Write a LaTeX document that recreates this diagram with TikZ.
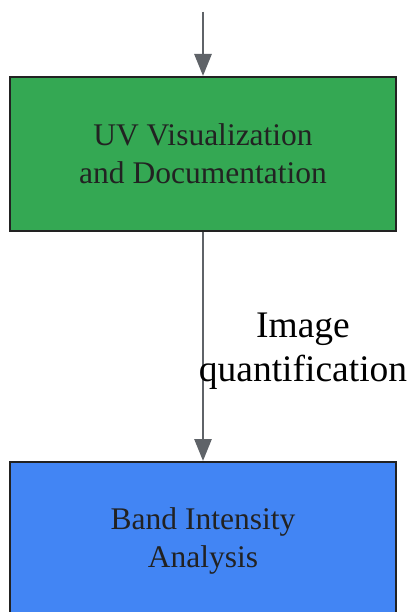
\documentclass[tikz,border=0pt]{standalone}
\usepackage{fontspec}
\setmainfont{Liberation Serif}
\usetikzlibrary{arrows.meta}
\definecolor{stepgreen}{HTML}{34A853}
\definecolor{stepblue}{HTML}{4285F4}
\definecolor{linkgray}{HTML}{5F6368}
\definecolor{inkdark}{HTML}{222222}

\begin{document}
\begin{tikzpicture}[x=1pt,y=-1pt,
    stepbox/.style={rectangle,draw=inkdark,line width=2pt,minimum width=386pt,minimum height=154pt,
      align=center,text=inkdark,font=\fontsize{31.5}{38}\selectfont},
    flow/.style={-{Triangle[length=22pt,width=17pt]},draw=linkgray,fill=linkgray,line width=2.8pt},
    lbl/.style={align=center,text=black,font=\fontsize{37.5}{44}\selectfont}]
      \useasboundingbox (0,0) rectangle (408,612);
      \coordinate (in) at (203,12);
      \node (uv) at (203,154) [stepbox,fill=stepgreen] {UV Visualization\\and Documentation};
      \node (band) at (203,541) [stepbox,minimum height=158pt,fill=stepblue] {Band Intensity\\Analysis};
      \draw [flow] (in) -- (uv);
      \draw [flow] (uv) -- node [lbl,xshift=100pt,yshift=-5pt] {Image\\quantification} (band);
    \end{tikzpicture}
\end{document}
